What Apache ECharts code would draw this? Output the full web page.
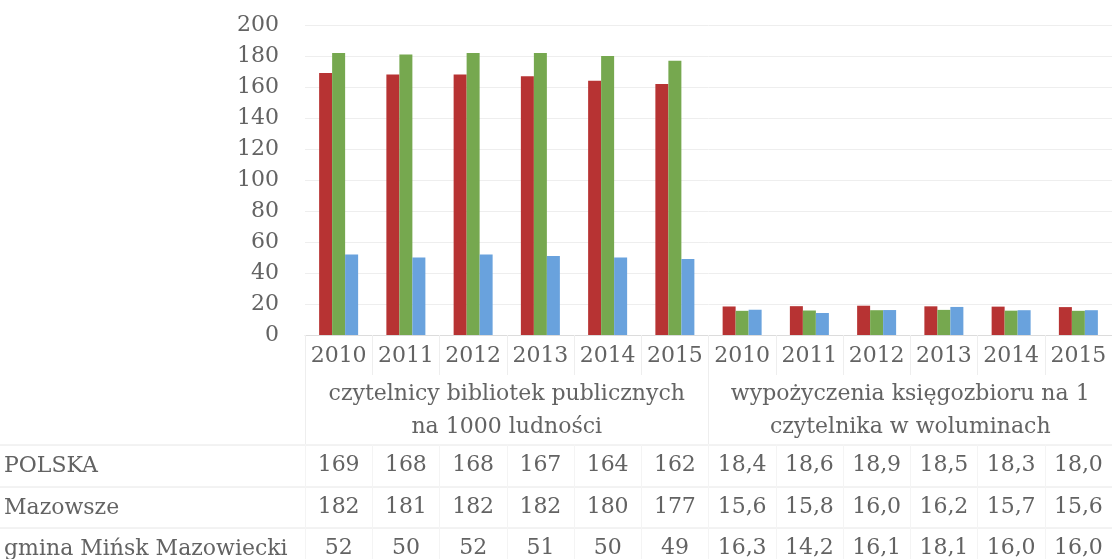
<!DOCTYPE html>
<html>
<head>
<meta charset="utf-8">
<title>Czytelnictwo</title>
<script src="https://cdn.jsdelivr.net/npm/echarts@6/dist/echarts.min.js"></script>
<style>
  html, body { margin: 0; padding: 0; background: #fff; }
  #main { width: 1112px; height: 559px; }
</style>
</head>
<body>
<div id="main"></div>
<script>
var years = ['2010', '2011', '2012', '2013', '2014', '2015', '2010', '2011', '2012', '2013', '2014', '2015'];
var groups = ['czytelnicy bibliotek publicznych\nna 1000 ludności', 'wypożyczenia księgozbioru na 1\nczytelnika w woluminach'];
var seriesNames = ['POLSKA', 'Mazowsze', 'gmina Mińsk Mazowiecki'];
var polska = [169, 168, 168, 167, 164, 162, 18.4, 18.6, 18.9, 18.5, 18.3, 18.0];
var mazowsze = [182, 181, 182, 182, 180, 177, 15.6, 15.8, 16.0, 16.2, 15.7, 15.6];
var gmina = [52, 50, 52, 51, 50, 49, 16.3, 14.2, 16.1, 18.1, 16.0, 16.0];
var yTicks = [0, 200, 20];

var colors = ['#b73333', '#76a84f', '#69a2dd'];
var textColor = '#636363';
var ruleColor = '#e6e6e6';
var font = 'DejaVu Serif';
var fs = 22;

// wartosci w tabeli: lata -> liczby calkowite, woluminy -> jedno miejsce po przecinku
function fmt(arr) {
    return arr.map(function (v, i) {
        return i < 6 ? String(Math.round(v)) : v.toFixed(1).replace('.', ',');
    });
}

function rowAxis(values, offset) {
    return {
        type: 'category', position: 'bottom', offset: offset,
        data: fmt(values),
        axisLine: { show: false },
        axisTick: { show: true, interval: 0, length: 42, lineStyle: { color: '#f4f4f4' } },
        axisLabel: { interval: 0, margin: 10, fontFamily: font, fontSize: fs, lineHeight: 22, color: textColor },
        splitLine: { show: false }
    };
}

var myChart = echarts.init(document.getElementById('main'));
var rows = [polska, mazowsze, gmina];
var rowY = [445, 487, 528];

var graphics = [];
rowY.forEach(function (y, i) {
    graphics.push({
        type: 'line', shape: { x1: 0, y1: y, x2: 1112, y2: y },
        style: { stroke: ruleColor, lineWidth: 1 }
    });
    graphics.push({
        type: 'text', left: 4, top: y + 10,
        style: { text: seriesNames[i], font: fs + 'px "' + font + '"', fill: textColor }
    });
});

myChart.setOption({
    animation: false,
    grid: { left: 305, top: 25, width: 809, height: 311 },
    xAxis: [
        {
            type: 'category', position: 'bottom', data: years,
            axisLine: { show: true, lineStyle: { color: '#dcdcdc' } },
            axisTick: { show: true, interval: 0, length: 40, lineStyle: { color: '#eeeeee' } },
            axisLabel: { interval: 0, margin: 10, fontFamily: font, fontSize: fs, lineHeight: 22, color: textColor }
        },
        {
            type: 'category', position: 'bottom', offset: 0, data: groups,
            axisLine: { show: false },
            axisTick: { show: true, interval: 0, length: 109, lineStyle: { color: '#eeeeee' } },
            axisLabel: { interval: 0, margin: 43, fontFamily: font, fontSize: fs, lineHeight: 33, color: textColor }
        },
        rowAxis(polska, rowY[0] - 336),
        rowAxis(mazowsze, rowY[1] - 336),
        rowAxis(gmina, rowY[2] - 336)
    ],
    yAxis: {
        type: 'value', min: yTicks[0], max: yTicks[1], interval: yTicks[2],
        axisLine: { show: false },
        axisTick: { show: false },
        axisLabel: { margin: 26, fontFamily: font, fontSize: fs, color: textColor },
        splitLine: { lineStyle: { color: '#eeeeee' } }
    },
    series: rows.map(function (vals, i) {
        return {
            name: seriesNames[i], type: 'bar', xAxisIndex: 0,
            data: vals, barWidth: 13, barGap: '0%',
            itemStyle: { color: colors[i] }
        };
    }),
    graphic: graphics
});
</script>
</body>
</html>
